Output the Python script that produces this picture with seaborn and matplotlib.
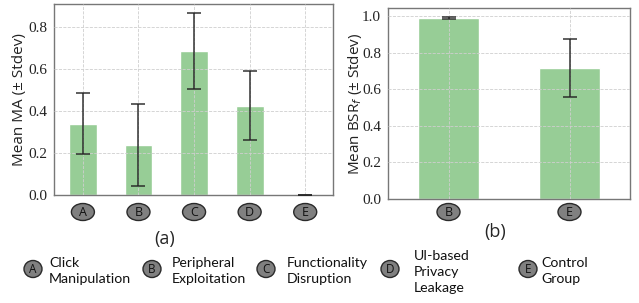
import matplotlib
matplotlib.use("Agg")
import matplotlib.pyplot as plt
from matplotlib.patches import Ellipse
from matplotlib import font_manager as fm
import seaborn as sns

# Data
cats_a = ["A", "B", "C", "D", "E"]
mean_a = [0.34, 0.24, 0.685, 0.425, 0.0]
std_a = [0.147, 0.195, 0.18, 0.165, 0.0]

cats_b = ["B", "E"]
mean_b = [0.99, 0.717]
std_b = [0.007, 0.157]

legend_letters = ["A", "B", "C", "D", "E"]
legend_texts = ["Click\nManipulation", "Peripheral\nExploitation", "Functionality\nDisruption",
                "UI-based\nPrivacy\nLeakage", "Control\nGroup"]

sns.set_style("white")
plt.rcParams['font.family'] = ['Lato', 'DejaVu Sans']

GREEN = "#97CD96"
SPINE = "#777777"
CIRC_FC = "#808080"
CIRC_EC = "#2a2a2a"

try:
    serif_path = fm.findfont(fm.FontProperties(family="Liberation Serif"), fallback_to_default=False)
except Exception:
    serif_path = fm.findfont(fm.FontProperties(family="DejaVu Serif"))
SERIF = fm.FontProperties(fname=serif_path, size=11)

fig = plt.figure(figsize=(6.39, 3.03), dpi=100)
W, H = 639, 303

def px_axes(l, t, r, b):
    return fig.add_axes([l / W, 1 - b / H, (r - l) / W, (b - t) / H])

def badge(xpx, ypx, letter, w, h, fs):
    e = Ellipse((xpx / W, 1 - ypx / H), w / W, h / H, transform=fig.transFigure,
                fc=CIRC_FC, ec=CIRC_EC, lw=1.0, zorder=5)
    fig.add_artist(e)
    fig.text(xpx / W, 1 - (ypx + 0.5) / H, letter, ha="center", va="center",
             fontsize=fs, color="#111111", zorder=6, family=["Open Sans", "DejaVu Sans"])

ax1 = px_axes(54, 4, 333, 195)
ax2 = px_axes(388, 8, 630, 199)

def draw(ax, cats, means, stds, ylabel, xlim, ylim, yticks, label_x):
    sns.barplot(x=cats, y=means, color=GREEN, width=0.5, ax=ax, saturation=1)
    ax.errorbar(range(len(cats)), means, yerr=stds, fmt="none", ecolor="#222222",
                elinewidth=1.2, capsize=5, capthick=1.2, alpha=0.85, zorder=4)
    ax.set_xlim(*xlim)
    ax.set_ylim(*ylim)
    ax.set_yticks(yticks)
    ax.set_axisbelow(False)
    ax.grid(True, linestyle="--", linewidth=0.6, color="#cfcfcf")
    for p in ax.patches:
        p.set_zorder(1)
    for s in ax.spines.values():
        s.set_color(SPINE)
        s.set_linewidth(1.0)
    ax.set_ylabel(ylabel, fontsize=11, family=["Open Sans", "DejaVu Sans"],
                  color="#222222")
    ax.yaxis.set_label_coords(label_x, 0.5)
    ax.set_xticklabels([""] * len(cats))
    ax.tick_params(axis="x", length=4, color=SPINE)
    ax.tick_params(axis="y", length=3, color=SPINE, pad=2, labelcolor="#222222")
    ax.set_yticklabels([f"{v:.1f}" for v in yticks], fontproperties=SERIF)
    for i, c in enumerate(cats):
        xpx = ax.transData.transform((i, 0))[0]
        badge(xpx, 212, c, 23, 17, 9)

draw(ax1, cats_a, mean_a, std_a, "Mean MA (± Stdev)", (-0.52, 4.5), (0, 0.91),
     [0.0, 0.2, 0.4, 0.6, 0.8], -0.095)
draw(ax2, cats_b, mean_b, std_b, r"Mean BSR$_f$ (± Stdev)", (-0.5, 1.5), (0, 1.045),
     [0.0, 0.2, 0.4, 0.6, 0.8, 1.0], -0.1)

fig.text(165 / W, 1 - 239 / H, "(a)", ha="center", va="center", fontsize=13,
         family=["Open Sans", "DejaVu Sans"])
fig.text(495 / W, 1 - 232 / H, "(b)", ha="center", va="center", fontsize=13,
         family=["Open Sans", "DejaVu Sans"])

circ_x = [33, 152, 266, 390, 528]
text_x = [49, 172, 287, 414, 541]
for cx, tx, letter, txt in zip(circ_x, text_x, legend_letters, legend_texts):
    badge(cx, 269, letter, 18, 17, 8.5)
    nlines = txt.count("\n") + 1
    top = 257 if nlines == 2 else 250
    fig.text(tx / W, 1 - top / H, txt, ha="left", va="top", fontsize=10.2,
             linespacing=1.4, color="#111111")

fig.canvas.draw()
for ax in (ax1, ax2):
    for lbl in ax.get_yticklabels():
        lbl.set_fontproperties(SERIF)

fig.savefig("out.png", dpi=100)
